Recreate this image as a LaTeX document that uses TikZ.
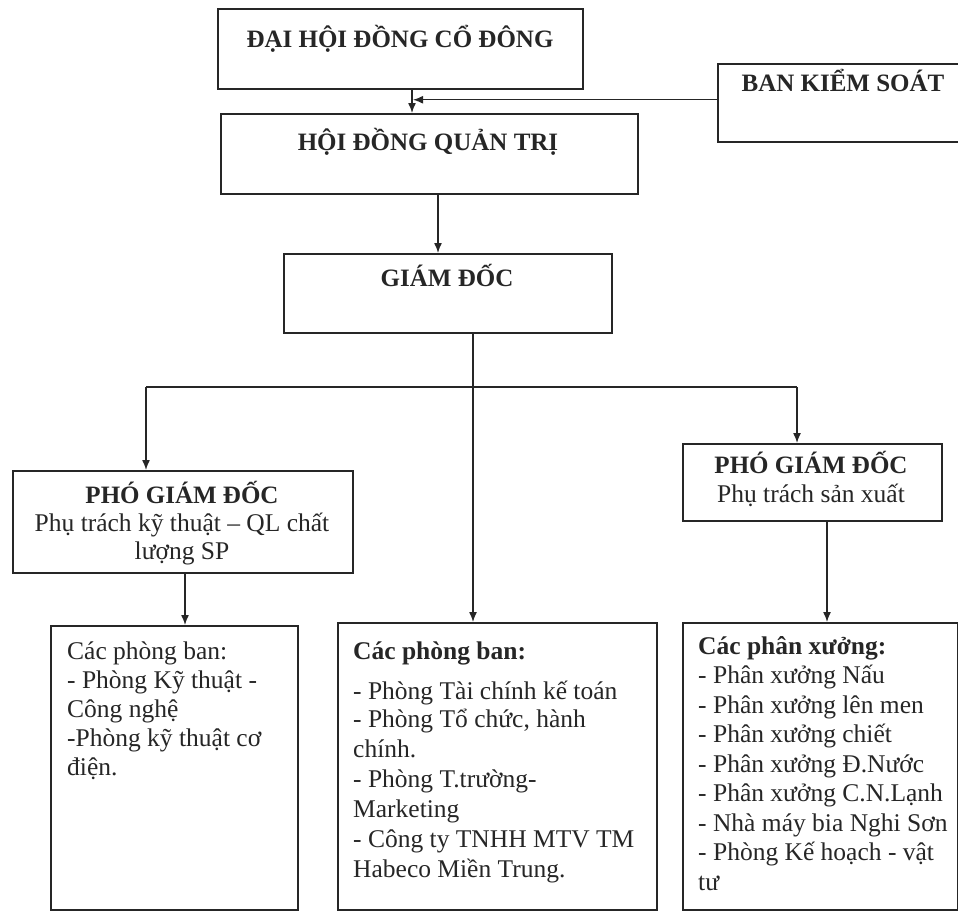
\documentclass[tikz,border=0pt]{standalone}
\usepackage{fontspec}
\setmainfont{Liberation Serif}
\usetikzlibrary{arrows.meta,calc}
\definecolor{ink}{HTML}{262626}
\begin{document}
\begin{tikzpicture}[x=1pt,y=-1pt,
  box/.style={draw=ink, line width=1.5pt, anchor=north west, inner sep=0pt},
  txt/.style={text=ink, inner sep=0pt, anchor=base west, font=\fontsize{25.5pt}{29.5pt}\selectfont},
  btxt/.style={txt, font=\fontsize{25.5pt}{29.5pt}\selectfont\bfseries},
  ttl/.style={text=ink, inner sep=0pt, anchor=base, font=\fontsize{25pt}{29.5pt}\selectfont\bfseries},
  sub/.style={text=ink, inner sep=0pt, anchor=base, font=\fontsize{25.5pt}{29.5pt}\selectfont},
  arr/.style={draw=ink, line width=1.4pt, -{Latex[length=10pt,width=8pt]}},
  ln/.style={draw=ink, line width=1.4pt}]
\useasboundingbox (0,0) rectangle (958,911);

% boxes
\node[box, minimum width=365pt, minimum height=80pt] (dh) at (217,8) {};
\node[box, minimum width=252pt, minimum height=78pt] (bks) at (717,63) {};
\node[box, minimum width=417pt, minimum height=80pt] (hd) at (220,113) {};
\node[box, minimum width=328pt, minimum height=79pt] (gd) at (283,253) {};
\node[box, minimum width=340pt, minimum height=102pt] (p1) at (12,470) {};
\node[box, minimum width=259pt, minimum height=77pt] (p2) at (682,443) {};
\node[box, minimum width=247pt, minimum height=284pt] (lb) at (50,625) {};
\node[box, minimum width=319pt, minimum height=287pt] (mb) at (337,622) {};
\node[box, minimum width=275pt, minimum height=287pt] (rb) at (682,622) {};

% titles
\node[ttl] (tdh) at (400,47) {ĐẠI HỘI ĐỒNG CỔ ĐÔNG};
\node[ttl] (tbks) at (843,91) {BAN KIỂM SOÁT};
\node[ttl] (thd) at (428,150) {HỘI ĐỒNG QUẢN TRỊ};
\node[ttl] (tgd) at (447,286) {GIÁM ĐỐC};
\node[ttl] (tp1) at (182,503) {PHÓ GIÁM ĐỐC};
\node[sub] (tp1a) at (182,531) {Phụ trách kỹ thuật – QL chất};
\node[sub] (tp1b) at (182,559) {lượng SP};
\node[ttl] (tp2) at (811,473) {PHÓ GIÁM ĐỐC};
\node[sub] (tp2a) at (811,502) {Phụ trách sản xuất};

% left box text
\node[txt] (l1) at (67,659) {Các phòng ban:};
\node[txt] (l2) at (67,688) {- Phòng Kỹ thuật -};
\node[txt] (l3) at (67,717) {Công nghệ};
\node[txt] (l4) at (67,746) {-Phòng kỹ thuật cơ};
\node[txt] (l5) at (67,775) {điện.};

% middle box text
\node[btxt] (m1) at (353,659) {Các phòng ban:};
\node[txt] (m2) at (353,699) {- Phòng Tài chính kế toán};
\node[txt] (m3) at (353,727) {- Phòng Tổ chức, hành};
\node[txt] (m4) at (353,757) {chính.};
\node[txt] (m5) at (353,787) {- Phòng T.trường-};
\node[txt] (m6) at (353,817) {Marketing};
\node[txt] (m7) at (353,847) {- Công ty TNHH MTV TM};
\node[txt] (m8) at (353,877) {Habeco Miền Trung.};

% right box text
\node[btxt] (r1) at (698,654) {Các phân xưởng:};
\node[txt] (r2) at (698,683.5) {- Phân xưởng Nấu};
\node[txt] (r3) at (698,713) {- Phân xưởng lên men};
\node[txt] (r4) at (698,742.5) {- Phân xưởng chiết};
\node[txt] (r5) at (698,772) {- Phân xưởng Đ.Nước};
\node[txt] (r6) at (698,801.5) {- Phân xưởng C.N.Lạnh};
\node[txt] (r7) at (698,831) {- Nhà máy bia Nghi Sơn};
\node[txt] (r8) at (698,860.5) {- Phòng Kế hoạch - vật};
\node[txt] (r9) at (698,890) {tư};

% connectors
\coordinate (a1) at ([xshift=195pt]dh.south west);
\coordinate (bk) at ([yshift=3pt]bks.west);
\draw[arr] (a1) -- (a1 |- hd.north);
\draw[arr] (bk) -- ([xshift=1pt]bk -| a1);

\coordinate (a2) at ([xshift=218pt]hd.south west);
\draw[arr] (a2) -- (a2 |- gd.north);

\coordinate (a3) at ([xshift=190pt]gd.south west);
\coordinate (jc) at (473,387);
\coordinate (jl) at (146,387);
\coordinate (jr) at (797,387);
\draw[ln] (a3) -- (jc);
\draw[ln] (jl) -- (jr);
\draw[arr] (jl) -- (jl |- p1.north);
\draw[arr] (jc) -- (jc |- mb.north);
\draw[arr] (jr) -- (jr |- p2.north);

\coordinate (a4) at ([xshift=173pt]p1.south west);
\draw[arr] (a4) -- (a4 |- lb.north);
\coordinate (a5) at ([xshift=145pt]p2.south west);
\draw[arr] (a5) -- (a5 |- rb.north);
\end{tikzpicture}
\end{document}
